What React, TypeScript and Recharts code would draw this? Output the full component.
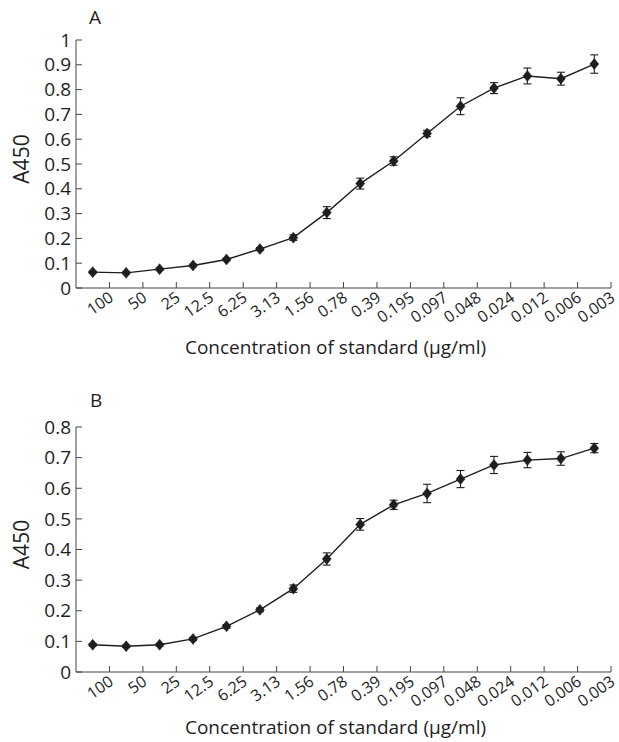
import React from 'react';
import { LineChart, Line, XAxis, YAxis, ErrorBar } from 'recharts';

// dilution series of the standard (µg/ml), left to right
const concentrations = ['100', '50', '25', '12.5', '6.25', '3.13', '1.56', '0.78', '0.39', '0.195', '0.097', '0.048', '0.024', '0.012', '0.006', '0.003'];

// panel A
const meanA = [0.064, 0.061, 0.076, 0.091, 0.115, 0.157, 0.203, 0.304, 0.421, 0.512, 0.623, 0.733, 0.806, 0.855, 0.844, 0.903];
const errA = [0.004, 0.004, 0.004, 0.005, 0.005, 0.006, 0.011, 0.024, 0.022, 0.017, 0.013, 0.034, 0.022, 0.032, 0.026, 0.037];
const yTicksA = [0, 0.1, 0.2, 0.3, 0.4, 0.5, 0.6, 0.7, 0.8, 0.9, 1];

// panel B
const meanB = [0.089, 0.084, 0.089, 0.108, 0.149, 0.203, 0.272, 0.369, 0.482, 0.546, 0.583, 0.63, 0.676, 0.692, 0.697, 0.731];
const errB = [0.004, 0.004, 0.004, 0.005, 0.006, 0.006, 0.012, 0.02, 0.019, 0.015, 0.03, 0.028, 0.028, 0.025, 0.022, 0.015];
const yTicksB = [0, 0.1, 0.2, 0.3, 0.4, 0.5, 0.6, 0.7, 0.8];

const FONT = '"Open Sans", sans-serif';
const INK = '#1e1e1e';
const AXIS = '#444';

// points sit in the middle of each dilution slot, tick marks on the slot edges
const xTicks = concentrations.map((_, i) => i + 1);

const buildRows = (mean: number[], err: number[]) =>
  concentrations.map((c, i) => ({ pos: i + 0.5, conc: c, mean: mean[i], err: err[i] }));

const Diamond = (props: any) => {
  const { cx, cy } = props;
  if (cx == null || cy == null) return null;
  return (
    <path
      d={`M${cx},${cy - 5.5} L${cx + 4.5},${cy} L${cx},${cy + 5.5} L${cx - 4.5},${cy} Z`}
      fill={INK}
      stroke={INK}
      strokeWidth={0.5}
    />
  );
};

const XTick = (props: any) => {
  const { x, y, payload } = props;
  const tx = x + 5;
  const ty = y + 12;
  return (
    <g>
      <line x1={x} y1={y} x2={x} y2={y - 6} stroke={AXIS} strokeWidth={1} />
      <text
        x={tx}
        y={ty}
        transform={`rotate(-35, ${tx}, ${ty})`}
        textAnchor="end"
        fontSize={16}
        fontFamily={FONT}
        fill={INK}
      >
        {concentrations[payload.value - 1]}
      </text>
    </g>
  );
};

const YTick = (props: any) => {
  const { x, y, payload } = props;
  return (
    <g>
      <line x1={x} y1={y} x2={x + 6} y2={y} stroke={AXIS} strokeWidth={1} />
      <text
        x={x - 5}
        y={y}
        dy="0.35em"
        textAnchor="end"
        fontSize={19}
        fontFamily={FONT}
        fill={INK}
      >
        {String(payload.value)}
      </text>
    </g>
  );
};

const yLabel = ({ viewBox }: any) => {
  const cx = viewBox.x + 21;
  const cy = viewBox.y + viewBox.height / 2 - 5;
  return (
    <text
      x={cx}
      y={cy}
      transform={`rotate(-90, ${cx}, ${cy})`}
      textAnchor="middle"
      dominantBaseline="central"
      fontSize={21}
      fontFamily={FONT}
      fill={INK}
    >
      A450
    </text>
  );
};

const makeXLabel = (drop: number) => ({ viewBox }: any) => (
  <text
    x={viewBox.x + viewBox.width / 2 - 8}
    y={viewBox.y + drop}
    textAnchor="middle"
    fontSize={19}
    fontFamily={FONT}
    fill={INK}
  >
    Concentration of standard (µg/ml)
  </text>
);

interface PanelProps {
  mean: number[];
  err: number[];
  yTicks: number[];
  yMax: number;
  height: number;
  top: number;
  xAxisHeight: number;
  labelDrop: number;
}

function Panel({ mean, err, yTicks, yMax, height, top, xAxisHeight, labelDrop }: PanelProps) {
  const rows = buildRows(mean, err);
  return (
    <LineChart
      width={619}
      height={height}
      data={rows}
      margin={{ top, right: 8, left: 0, bottom: 0 }}
    >
      <XAxis
        type="number"
        dataKey="pos"
        domain={[0, 16]}
        ticks={xTicks}
        interval={0}
        height={xAxisHeight}
        tickLine={false}
        tickSize={0}
        tickMargin={0}
        tick={<XTick />}
        axisLine={{ stroke: AXIS, strokeWidth: 1 }}
        label={{ content: makeXLabel(labelDrop) }}
      />
      <YAxis
        type="number"
        domain={[0, yMax]}
        ticks={yTicks}
        interval={0}
        width={76}
        tickLine={false}
        tickSize={0}
        tickMargin={0}
        tick={<YTick />}
        axisLine={{ stroke: AXIS, strokeWidth: 1 }}
        label={{ content: yLabel }}
      />
      <Line
        type="linear"
        dataKey="mean"
        stroke={INK}
        strokeWidth={1.4}
        dot={<Diamond />}
        activeDot={false}
        isAnimationActive={false}
      >
        <ErrorBar dataKey="err" direction="y" width={4} stroke={INK} strokeWidth={1.1} />
      </Line>
    </LineChart>
  );
}

export default function App() {
  return (
    <div
      style={{
        position: 'absolute',
        left: 0,
        top: 0,
        width: 619,
        height: 742,
        overflow: 'hidden',
        background: '#fff',
        fontFamily: FONT,
      }}
    >
      <div style={{ position: 'absolute', left: 89, top: 4, fontSize: 19, color: INK }}>A</div>
      <div style={{ position: 'absolute', left: 90, top: 387, fontSize: 19, color: INK }}>B</div>
      <div style={{ position: 'absolute', left: 0, top: 0 }}>
        <Panel mean={meanA} err={errA} yTicks={yTicksA} yMax={1} height={370} top={40} xAxisHeight={82} labelDrop={66} />
      </div>
      <div style={{ position: 'absolute', left: 0, top: 380 }}>
        <Panel mean={meanB} err={errB} yTicks={yTicksB} yMax={0.8} height={362} top={47} xAxisHeight={70} labelDrop={62} />
      </div>
    </div>
  );
}
